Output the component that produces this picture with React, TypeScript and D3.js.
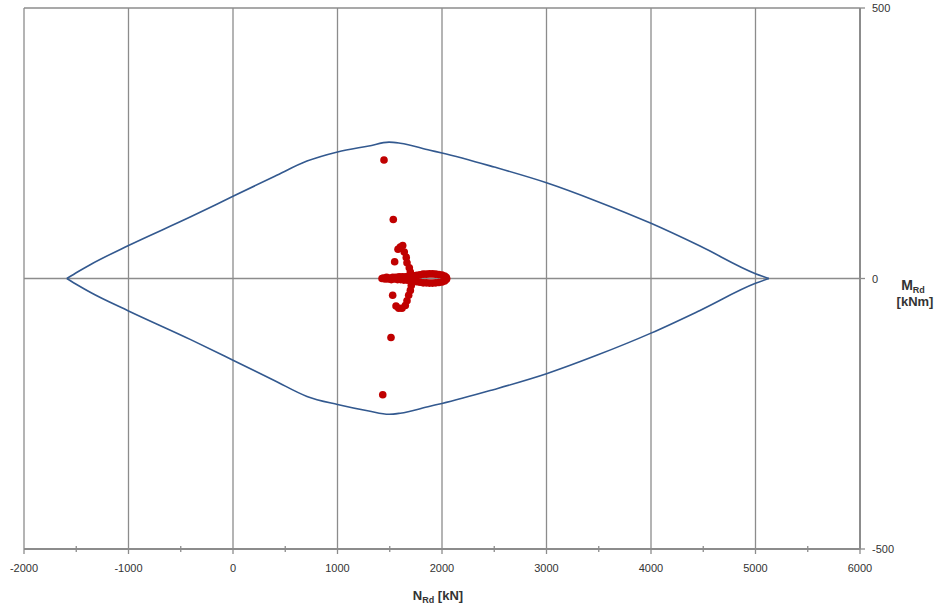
import React from "react";
import * as d3 from "d3";

const W = 941;
const H = 607;

// Interaction diagram - upper branch (N [kN], M [kNm])
const curveTopN = [-1590, -1480, -1362, -1000, -405, 0, 400, 708, 1000, 1300, 1493, 1600, 1885, 2000, 2500, 3000, 3480, 4000, 4469, 5000, 5128];
const curveTopM = [0, 13, 26, 61, 114, 152, 189, 217, 234, 245, 252, 250, 237, 232, 206, 177, 143, 102, 60, 9, 0];
// lower branch
const curveBotN = [-1590, -1480, -1362, -1000, -405, 0, 400, 708, 1000, 1300, 1493, 1600, 1885, 2000, 2500, 3000, 3480, 4000, 4469, 5000, 5128];
const curveBotM = [0, -13, -26, -60, -113, -151, -189, -218, -233, -245, -251, -249, -236, -231, -205, -176, -142, -101, -59, -9, 0];

// Load points (N, M)
const pointN = [
  1445, 1534, 1624, 1601, 1579, 1639, 1658, 1547, 1665, 1687, 1697,
  1706, 1697, 1681, 1528, 1665, 1649, 1560, 1617, 1586, 1512, 1433,
  1426, 1440, 1455, 1470, 1485, 1500, 1515, 1530, 1545, 1560, 1575, 1590, 1605, 1620, 1635, 1650, 1665, 1680, 1695, 1710, 1725, 1740,
  1760, 1790, 1820, 1850, 1880, 1910, 1940, 1970, 2000, 2025, 2040, 2045, 2040, 2025, 2000, 1970, 1940, 1910, 1880, 1850, 1820, 1790, 1760, 1745, 1750,
];
const pointM = [
  219, 109, 61, 58, 54, 49, 39, 31, 29, 20, 12,
  -13, -22, -31, -31, -41, -50, -51, -55, -55, -109, -215,
  0, 1, -1, 2, -1, 1, -2, 2, -1, 2, -2, 3, -2, 3, -3, 3, -3, 4, -4, 4, -4, 5,
  6, 7, 8, 8, 8.5, 8.5, 8, 7.5, 6.5, 4.5, 2, 0, -2, -4.5, -6.5, -7.5, -8, -8.5, -8.5, -8, -8, -7, -6, -3, 2,
];

const xMajor = [-2000, -1000, 0, 1000, 2000, 3000, 4000, 5000, 6000];
const xMinor = [-1500, -500, 500, 1500, 2500, 3500, 4500, 5500];
const yTicks = [500, 0, -500];

export default function App() {
  const x = d3.scaleLinear().domain([-2000, 6000]).range([24, 860]);
  const y = d3.scaleLinear().domain([-500, 500]).range([549, 8]);

  const line = d3
    .line<[number, number]>()
    .x((d) => x(d[0]))
    .y((d) => y(d[1]))
    .curve(d3.curveMonotoneX);

  const top: [number, number][] = curveTopN.map((n, i) => [n, curveTopM[i]]);
  const bot: [number, number][] = curveBotN.map((n, i) => [n, curveBotM[i]]);

  const grid = "#8c8c8c";
  const font = "'Liberation Sans', Arial, sans-serif";

  return (
    <svg width={W} height={H} style={{ position: "absolute", left: 0, top: 0, background: "#fff" }}>
      {xMajor.map((v) => (
        <line key={"gx" + v} x1={x(v)} x2={x(v)} y1={y(500)} y2={y(-500)} stroke={grid} strokeWidth={1.3} />
      ))}
      {yTicks.map((v) => (
        <line key={"gy" + v} x1={x(-2000)} x2={x(6000)} y1={y(v)} y2={y(v)} stroke={grid} strokeWidth={1.3} />
      ))}
      <line x1={x(-2000)} x2={x(6000)} y1={y(-500)} y2={y(-500)} stroke={grid} strokeWidth={2} />
      <line x1={x(6000)} x2={x(6000)} y1={y(500)} y2={y(-500)} stroke={grid} strokeWidth={2} />
      {xMajor.map((v) => (
        <line key={"tx" + v} x1={x(v)} x2={x(v)} y1={y(-500)} y2={y(-500) + 5} stroke={grid} strokeWidth={1.3} />
      ))}
      {xMinor.map((v) => (
        <line key={"tm" + v} x1={x(v)} x2={x(v)} y1={y(-500) - 3} y2={y(-500) + 3} stroke={grid} strokeWidth={1.3} />
      ))}
      {yTicks.map((v) => (
        <line key={"ty" + v} x1={x(6000)} x2={x(6000) + 5} y1={y(v)} y2={y(v)} stroke={grid} strokeWidth={1.3} />
      ))}

      <path d={line(top) || ""} fill="none" stroke="#33598f" strokeWidth={1.6} />
      <path d={line(bot) || ""} fill="none" stroke="#33598f" strokeWidth={1.6} />

      {pointN.map((n, i) => (
        <circle key={"p" + i} cx={x(n)} cy={y(pointM[i])} r={3.8} fill="#c00000" />
      ))}

      {xMajor.map((v) => (
        <text key={"lx" + v} x={x(v)} y={572} textAnchor="middle" fontFamily={font} fontSize={11} fill="#333">
          {v}
        </text>
      ))}
      {yTicks.map((v) => (
        <text key={"ly" + v} x={x(6000) + 12} y={y(v) + 4} textAnchor="start" fontFamily={font} fontSize={11} fill="#333">
          {v}
        </text>
      ))}

      <text x={438} y={600} textAnchor="middle" fontFamily={font} fontSize={13} fontWeight="bold" fill="#333">
        N<tspan fontSize={9} dy={3}>Rd</tspan>
        <tspan dy={-3}> [kN]</tspan>
      </text>
      <text x={913} y={290} textAnchor="middle" fontFamily={font} fontSize={14} fontWeight="bold" fill="#333">
        M<tspan fontSize={9} dy={3}>Rd</tspan>
      </text>
      <text x={915} y={306} textAnchor="middle" fontFamily={font} fontSize={13} fontWeight="bold" fill="#333">
        [kNm]
      </text>
    </svg>
  );
}
